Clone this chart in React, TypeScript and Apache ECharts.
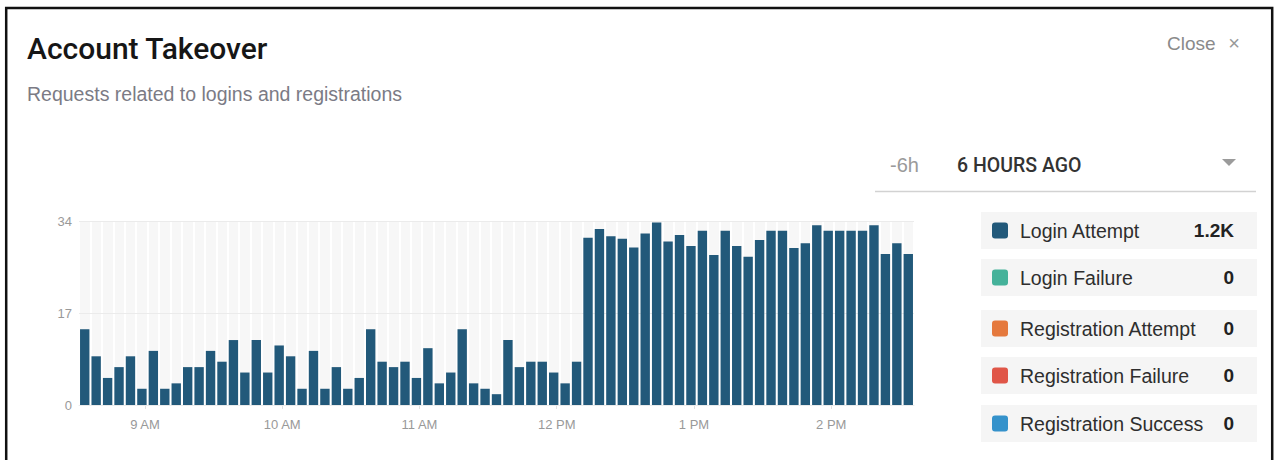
import React, { useEffect, useRef } from "react";
import * as echarts from "echarts";

// ---- data ----
const loginAttempts: number[] = [
  14, 9, 5, 7, 9, 3, 10, 3, 4, 7,
  7, 10, 8, 12, 6, 12, 6, 11, 9, 3,
  10, 3, 7, 3, 5, 14, 8, 7, 8, 5,
  10.5, 4, 6, 14, 4, 3, 2, 12, 7, 8,
  8, 6, 4, 8,
  30.9, 32.5, 31.2, 30.7, 29.1, 31.7, 33.7, 30.2, 31.4, 29.4,
  32.2, 27.7, 32.2, 29.4, 27.4, 30.5, 32.2, 32.2, 29.0, 29.9,
  33.2, 32.2, 32.2, 32.2, 32.2, 33.2, 27.9, 29.9, 27.9,
];
const bucketMinutes = 5;
const startTime = new Date(2018, 5, 12, 8, 31, 10).getTime();
const hourLabels = ["9 AM", "10 AM", "11 AM", "12 PM", "1 PM", "2 PM"];
const firstLabelHour = 9;
const yMax = 34;
const yInterval = 17;

const legendNames = [
  "Login Attempt",
  "Login Failure",
  "Registration Attempt",
  "Registration Failure",
  "Registration Success",
];
const legendColors = ["#22597a", "#45b29a", "#e5793d", "#e05648", "#3592cb"];
const legendValues = ["1.2K", "0", "0", "0", "0"];
const legendRowTops = [212, 259, 310, 357, 405];

const FONT = "'Liberation Sans', Arial, Helvetica, sans-serif";
const TITLE_FONT = "Roboto, 'Liberation Sans', Arial, sans-serif";

export default function App() {
  const ref = useRef<HTMLDivElement>(null);

  useEffect(() => {
    document.body.style.margin = "0";
    if (!ref.current) return;
    const chart = echarts.init(ref.current, undefined, { renderer: "svg" });

    const step = bucketMinutes * 60 * 1000;
    const categories = loginAttempts.map((_, i) => {
      const d = new Date(startTime + i * step);
      return `${d.getHours()}:${String(d.getMinutes()).padStart(2, "0")}`;
    });

    const legendGraphics: any[] = [];
    legendNames.forEach((name, i) => {
      const top = legendRowTops[i];
      const cy = top + 18.5;
      legendGraphics.push({
        type: "rect",
        silent: true,
        shape: { x: 981, y: top, width: 276, height: 37 },
        style: { fill: "#f5f5f5" },
      });
      legendGraphics.push({
        type: "rect",
        silent: true,
        shape: { x: 992, y: cy - 8, width: 16, height: 16, r: 3 },
        style: { fill: legendColors[i] },
      });
      legendGraphics.push({
        type: "text",
        silent: true,
        x: 1020,
        y: cy,
        style: {
          text: name,
          fontSize: 19.5,
          fontFamily: FONT,
          fill: "#2e2e2e",
          align: "left",
          verticalAlign: "middle",
        },
      });
      legendGraphics.push({
        type: "text",
        silent: true,
        x: 1234,
        y: cy,
        style: {
          text: legendValues[i],
          fontSize: 19,
          fontWeight: "bold",
          fontFamily: FONT,
          fill: "#222",
          align: "right",
          verticalAlign: "middle",
        },
      });
    });

    const option: any = {
      animation: false,
      textStyle: { fontFamily: FONT },
      grid: {
        left: 79,
        top: 221,
        width: 835,
        height: 184,
        show: true,
        backgroundColor: "#f7f7f7",
        borderWidth: 0,
        containLabel: false,
      },
      xAxis: [
        {
          type: "category",
          data: categories,
          boundaryGap: true,
          axisLabel: { show: false },
          axisTick: { show: false },
          axisLine: { show: false },
          splitLine: {
            show: true,
            interval: 0,
            lineStyle: { color: "#ffffff", width: 2 },
          },
        },
        {
          type: "time",
          position: "bottom",
          min: startTime,
          max: startTime + loginAttempts.length * step,
          minInterval: 3600 * 1000,
          maxInterval: 3600 * 1000,
          splitLine: { show: false },
          axisLine: { show: true, lineStyle: { color: "#ebebeb", width: 1 } },
          axisTick: { show: true, length: 4, lineStyle: { color: "#e2e2e2" } },
          axisLabel: {
            margin: 13,
            color: "#999",
            fontSize: 13,
            fontFamily: FONT,
            hideOverlap: false,
            showMinLabel: false,
            showMaxLabel: false,
            formatter: (v: number) => {
              const d = new Date(v);
              if (d.getMinutes() !== 0 || d.getSeconds() !== 0) return "";
              return hourLabels[d.getHours() - firstLabelHour] ?? "";
            },
          },
        },
      ],
      yAxis: {
        type: "value",
        min: 0,
        max: yMax,
        interval: yInterval,
        z: 1,
        axisLine: { show: false },
        axisTick: { show: false },
        axisLabel: {
          color: "#999",
          fontSize: 13,
          fontFamily: FONT,
          margin: 7,
          padding: [0, 0, 6, 0],
        },
        splitLine: { show: true, lineStyle: { color: "#ebebeb", width: 1 } },
      },
      series: [
        {
          name: "Login Attempt",
          type: "bar",
          xAxisIndex: 0,
          yAxisIndex: 0,
          data: loginAttempts,
          barCategoryGap: "18%",
          itemStyle: { color: "#22597a" },
        },
      ],
      graphic: [
        {
          type: "rect",
          silent: true,
          z: -10,
          shape: { x: 6.2, y: 8, width: 1266, height: 480 },
          style: { fill: "none", stroke: "#111", lineWidth: 2.5 },
        },
        {
          type: "text",
          silent: true,
          x: 27,
          y: 48,
          style: {
            text: "Account Takeover",
            fontSize: 30,
            fontWeight: 500,
            fontFamily: TITLE_FONT,
            fill: "#161616",
            align: "left",
            verticalAlign: "middle",
          },
        },
        {
          type: "text",
          silent: true,
          x: 27,
          y: 94,
          style: {
            text: "Requests related to logins and registrations",
            fontSize: 19.5,
            fontFamily: FONT,
            fill: "#7b7b85",
            align: "left",
            verticalAlign: "middle",
          },
        },
        {
          type: "text",
          silent: true,
          x: 1167,
          y: 43,
          style: {
            text: "Close",
            fontSize: 19,
            fontFamily: FONT,
            fill: "#8a8a8a",
            align: "left",
            verticalAlign: "middle",
          },
        },
        {
          type: "text",
          silent: true,
          x: 1234,
          y: 43,
          style: {
            text: "×",
            fontSize: 20,
            fontFamily: FONT,
            fill: "#999",
            align: "center",
            verticalAlign: "middle",
          },
        },
        {
          type: "text",
          silent: true,
          x: 890,
          y: 165,
          style: {
            text: "-6h",
            fontSize: 20,
            fontFamily: FONT,
            fill: "#9a9a9a",
            align: "left",
            verticalAlign: "middle",
          },
        },
        {
          type: "text",
          silent: true,
          x: 957,
          y: 165,
          style: {
            text: "6 HOURS AGO",
            fontSize: 19.5,
            fontWeight: 500,
            fontFamily: TITLE_FONT,
            fill: "#333",
            align: "left",
            verticalAlign: "middle",
          },
        },
        {
          type: "polygon",
          silent: true,
          shape: { points: [[1222, 159], [1236, 159], [1229, 166]] },
          style: { fill: "#9b9b9b" },
        },
        {
          type: "line",
          silent: true,
          shape: { x1: 875, y1: 191.5, x2: 1256, y2: 191.5 },
          style: { stroke: "#d2d2d2", lineWidth: 1.5 },
        },
        ...legendGraphics,
      ],
    };

    chart.setOption(option);
    return () => chart.dispose();
  }, []);

  return <div ref={ref} style={{ width: 1275, height: 460 }} />;
}
